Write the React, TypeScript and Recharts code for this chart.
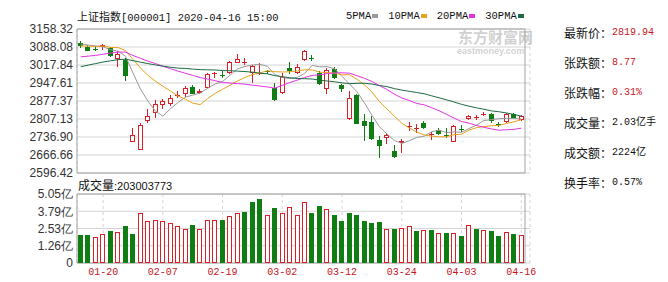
import React from 'react'
import { ComposedChart, Bar, Line, XAxis, YAxis, CartesianGrid, ReferenceArea } from 'recharts'

// trading days shown (01-15 .. 04-16)
const DATES = [
  '01-15', '01-16', '01-17', '01-20', '01-21', '01-22', '01-23', '02-03', '02-04', '02-05',
  '02-06', '02-07', '02-10', '02-11', '02-12', '02-13', '02-14', '02-17', '02-18', '02-19',
  '02-20', '02-21', '02-24', '02-25', '02-26', '02-27', '02-28', '03-02', '03-03', '03-04',
  '03-05', '03-06', '03-09', '03-10', '03-11', '03-12', '03-13', '03-16', '03-17', '03-18',
  '03-19', '03-20', '03-23', '03-24', '03-25', '03-26', '03-27', '03-30', '03-31', '04-01',
  '04-02', '04-03', '04-07', '04-08', '04-09', '04-10', '04-13', '04-14', '04-15', '04-16',
]
const TICK_DATES = ['01-20', '02-07', '02-19', '03-02', '03-12', '03-24', '04-03', '04-16']

const OPEN = [
  3104, 3090, 3079, 3088, 3084, 3041, 3037, 2717, 2685, 2800,
  2832, 2862, 2866, 2898, 2904, 2933, 2908, 2930, 2982, 2979,
  2988, 3026, 3029, 2986, 2985, 2995, 2927, 2907, 3007, 2988,
  3039, 3047, 2988, 2926, 3001, 2940, 2806, 2900, 2800, 2796,
  2724, 2733, 2684, 2712, 2777, 2768, 2792, 2743, 2766, 2745,
  2719, 2770, 2807, 2812, 2822, 2825, 2788, 2795, 2825, 2805,
]
const HIGH = [
  3110, 3097, 3093, 3100, 3087, 3073, 3047, 2771, 2791, 2845,
  2880, 2885, 2902, 2915, 2936, 2939, 2923, 2988, 2992, 2994,
  3035, 3061, 3046, 3018, 3026, 3000, 2949, 2988, 3028, 3020,
  3078, 3055, 2994, 3007, 3010, 2945, 2915, 2905, 2827, 2817,
  2740, 2753, 2705, 2731, 2794, 2786, 2799, 2758, 2773, 2772,
  2784, 2784, 2822, 2822, 2833, 2829, 2794, 2832, 2829, 2821,
]
const LOW = [
  3086, 3072, 3072, 3077, 3050, 3009, 2955, 2717, 2685, 2790,
  2812, 2847, 2859, 2889, 2894, 2904, 2904, 2927, 2969, 2969,
  2984, 3025, 3017, 2949, 2977, 2982, 2878, 2904, 2982, 2984,
  3035, 3035, 2940, 2905, 2965, 2911, 2803, 2787, 2722, 2725,
  2654, 2709, 2655, 2676, 2761, 2752, 2768, 2726, 2745, 2732,
  2717, 2755, 2805, 2803, 2819, 2790, 2777, 2793, 2810, 2801,
]
const CLOSE = [
  3090.04, 3074.08, 3075.5, 3095.79, 3052.14, 3060.75, 2976.53, 2746.61, 2783.29, 2818.09,
  2866.51, 2875.96, 2890.49, 2901.67, 2926.9, 2906.07, 2917.01, 2983.62, 2984.97, 2975.4,
  3030.15, 3039.67, 3031.23, 3013.05, 2987.93, 2991.33, 2880.3, 2970.93, 2992.9, 3011.67,
  3071.68, 3043, 2943.29, 2996.76, 2968.52, 2923.49, 2887.43, 2789.25, 2779.64, 2728.76,
  2702.13, 2745.62, 2660.17, 2722.44, 2781.59, 2771, 2772.2, 2747.21, 2750.3, 2740,
  2780.64, 2763.99, 2820.76, 2815.37, 2825.9, 2798, 2783.05, 2827.28, 2811.17, 2819.94,
]
const PREV_CLOSE = 3106.82

const MA5 = [
  3099.9, 3095.8, 3092.4, 3088.4, 3077.5, 3071.7, 3052.1, 2986.4, 2923.9, 2877.1,
  2838.2, 2818.1, 2846.9, 2870.6, 2892.3, 2900.2, 2908.4, 2927.0, 2943.7, 2953.4,
  2978.2, 3002.8, 3012.3, 3017.9, 3020.4, 3012.6, 2980.8, 2968.7, 2964.7, 2969.4,
  2985.5, 3016.3, 3010.8, 3011.6, 3003.0, 2973.3, 2943.9, 2913.1, 2869.7, 2821.7,
  2777.4, 2749.1, 2723.3, 2711.8, 2722.4, 2734.9, 2740.3, 2757.7, 2763.2, 2753.8,
  2757.0, 2755.3, 2770.0, 2783.1, 2801.3, 2804.5, 2808.3, 2809.6, 2808.8, 2807.6,
]
const MA10 = [
  3092.4, 3091.3, 3090.4, 3091.7, 3086.4, 3085.8, 3073.9, 3039.4, 3006.2, 2977.3,
  2954.9, 2935.1, 2916.6, 2897.2, 2884.7, 2869.2, 2863.3, 2887.0, 2907.1, 2922.9,
  2939.2, 2955.6, 2969.7, 2980.8, 2986.9, 2995.4, 2991.8, 2990.5, 2991.3, 2994.9,
  2999.1, 2998.6, 2989.8, 2988.1, 2986.2, 2979.4, 2980.1, 2962.0, 2940.6, 2912.3,
  2875.4, 2846.5, 2818.2, 2790.7, 2772.1, 2756.2, 2744.7, 2740.5, 2737.5, 2738.1,
  2746.0, 2747.8, 2763.9, 2773.2, 2777.6, 2780.8, 2781.8, 2789.8, 2795.9, 2804.5,
]
const MA20 = [
  3049.6, 3052.5, 3055.4, 3059.9, 3064.4, 3068.3, 3068.0, 3055.0, 3043.9, 3032.8,
  3023.7, 3013.2, 3003.5, 2994.4, 2985.5, 2977.5, 2968.6, 2963.2, 2956.6, 2950.1,
  2947.1, 2945.4, 2943.1, 2939.0, 2935.8, 2932.3, 2927.5, 2938.7, 2949.2, 2958.9,
  2969.2, 2977.1, 2979.7, 2984.5, 2986.6, 2987.4, 2985.9, 2976.2, 2966.0, 2953.6,
  2937.2, 2922.5, 2904.0, 2889.4, 2879.1, 2867.8, 2862.4, 2851.2, 2839.1, 2825.2,
  2810.7, 2797.1, 2791.0, 2781.9, 2774.8, 2768.5, 2763.3, 2765.1, 2766.7, 2771.3,
]
const MA30 = [
  3011.0, 3017.5, 3023.4, 3029.5, 3034.1, 3038.8, 3040.6, 3034.9, 3028.8, 3023.3,
  3018.1, 3013.4, 3009.1, 3005.7, 3004.5, 3001.9, 2999.8, 2999.0, 2998.3, 2996.2,
  2995.5, 2994.0, 2992.2, 2989.9, 2986.0, 2983.5, 2976.3, 2972.3, 2968.2, 2965.0,
  2964.4, 2963.1, 2958.7, 2955.4, 2952.6, 2948.0, 2945.1, 2946.5, 2946.4, 2943.4,
  2937.9, 2933.5, 2925.9, 2919.9, 2915.1, 2910.3, 2905.5, 2897.6, 2889.8, 2881.8,
  2873.5, 2864.3, 2857.3, 2850.7, 2845.3, 2838.8, 2835.5, 2830.8, 2824.7, 2818.3,
]

// 成交量, 亿
const VOLUME = [
  2.07, 2.07, 1.9, 2.12, 2.37, 2.27, 2.73, 2.15, 3.66, 3.1,
  3.17, 3.1, 2.93, 2.71, 2.51, 2.81, 2.51, 3.17, 3.17, 3.17,
  3.46, 3.66, 3.76, 4.49, 4.71, 3.51, 4.05, 3.68, 4.1, 3.51,
  4.46, 3.68, 4.2, 3.95, 3.54, 3.1, 3.68, 3.54, 3.1, 2.93,
  3.0, 2.51, 2.51, 2.56, 2.71, 2.37, 2.44, 2.44, 2.2, 2.2,
  2.2, 2.0, 2.75, 2.5, 2.42, 2.36, 1.95, 2.25, 2.1, 2.03,
]

const PRICE_TICKS = [2596.42, 2666.66, 2736.9, 2807.13, 2877.37, 2947.61, 3017.84, 3088.08, 3158.32]
const PRICE_TICK_LABELS = ['2596.42', '2666.66', '2736.90', '2807.13', '2877.37', '2947.61', '3017.84', '3088.08', '3158.32']
const VOL_TICKS = [0, 1.2625, 2.525, 3.7875, 5.05]
const VOL_TICK_LABELS = ['0', '1.26亿', '2.53亿', '3.79亿', '5.05亿']

const MA_NAMES = ['5PMA', '10PMA', '20PMA', '30PMA']
const MA_KEYS = ['ma5', 'ma10', 'ma20', 'ma30']
const MA_COLORS = ['#9a9a9a', '#e8a21c', '#e233e2', '#1d6b44']

const INFO_LABELS = ['最新价：', '张跌额：', '张跌幅：', '成交量：', '成交额：', '换手率：']
const INFO_VALUES = ['2819.94', '8.77', '0.31%', '2.03亿手', '2224亿', '0.57%']

const RED = '#dc1f26'
const GREEN = '#0f7d12'
const GRID = '#d4d4d4'
const FRAME = '#a3a3a3'
const SANS = '"Liberation Sans", Arial, sans-serif'
const MONO = '"Liberation Mono", "Noto Sans CJK SC", monospace'
const CJK = '"Noto Sans CJK SC", sans-serif'

const kData = DATES.map((date, i) => ({
  date,
  open: OPEN[i],
  high: HIGH[i],
  low: LOW[i],
  close: CLOSE[i],
  range: [LOW[i], HIGH[i]],
  ma5: MA5[i],
  ma10: MA10[i],
  ma20: MA20[i],
  ma30: MA30[i],
}))

const volData = DATES.map((date, i) => ({
  date,
  vol: VOLUME[i],
  up: CLOSE[i] >= (i === 0 ? PREV_CLOSE : CLOSE[i - 1]),
}))

const labelOf = (ticks: number[], labels: string[]) => (v: number) => {
  const i = ticks.findIndex((t) => Math.abs(t - v) < 1e-6)
  return i >= 0 ? labels[i] : String(v)
}

function Candle(props: any) {
  const { x, y, width, height, payload } = props
  if (!payload || y == null) return null
  const { open, close, high, low } = payload
  const top = Math.min(y, y + height)
  const h = Math.abs(height)
  const span = high - low || 1
  const toY = (v: number) => top + ((high - v) / span) * h
  const up = close >= open
  const color = up ? RED : GREEN
  const left = Math.round(x + width / 2 - 2.5)
  const mid = left + 2.5
  const yHigh = Math.round(toY(high))
  const yLow = Math.round(toY(low))
  const bTop = Math.round(toY(Math.max(open, close)))
  const bBot = Math.round(toY(Math.min(open, close)))
  const flat = bBot - bTop <= 1
  return (
    <g>
      <line x1={mid} x2={mid} y1={yHigh} y2={bTop} stroke={color} />
      <line x1={mid} x2={mid} y1={bBot} y2={yLow} stroke={color} />
      {flat ? (
        <line x1={left} x2={left + 5} y1={bTop + 0.5} y2={bTop + 0.5} stroke={color} />
      ) : (
        <rect
          x={left + 0.5}
          y={bTop + 0.5}
          width={4}
          height={bBot - bTop - 1}
          fill={up ? '#fff' : color}
          stroke={color}
        />
      )}
    </g>
  )
}

function VolBar(props: any) {
  const { x, y, width, height, payload } = props
  if (!payload || y == null) return null
  const left = Math.round(x + width / 2 - 2.5)
  const top = Math.round(Math.min(y, y + height))
  const bottom = Math.round(Math.max(y, y + height))
  if (payload.up) {
    return (
      <rect x={left + 0.5} y={top + 0.5} width={4} height={bottom - top - 1} fill="#fff" stroke={RED} />
    )
  }
  return <rect x={left} y={top} width={5} height={bottom - top} fill={GREEN} />
}

const axisTick = { fill: '#333', fontSize: 12, fontFamily: SANS }

export default function App() {
  return (
    <div
      style={{
        position: 'absolute',
        left: 0,
        top: 0,
        width: 668,
        height: 282,
        background: '#fff',
        overflow: 'hidden',
      }}
    >
      {/* title */}
      <div style={{ position: 'absolute', left: 77, top: 8, lineHeight: '16px', color: '#111', whiteSpace: 'nowrap' }}>
        <span style={{ fontFamily: CJK, fontSize: 11 }}>上证指数</span>
        <span style={{ fontFamily: MONO, fontSize: 10.5 }}>[000001] 2020-04-16 15:00</span>
      </div>

      {/* legend */}
      <div style={{ position: 'absolute', left: 346, top: 9, display: 'flex', lineHeight: '14px', whiteSpace: 'nowrap' }}>
        {MA_NAMES.map((name, i) => (
          <span key={name} style={{ display: 'flex', alignItems: 'center', marginRight: 10 }}>
            <span style={{ fontFamily: MONO, fontSize: 10.5, color: '#111' }}>{name}</span>
            <span style={{ display: 'inline-block', width: 6, height: 4, background: MA_COLORS[i], marginLeft: 1 }} />
          </span>
        ))}
      </div>

      {/* watermark */}
      <div
        style={{
          position: 'absolute',
          left: 458,
          top: 28,
          color: 'rgba(150,150,150,0.45)',
          fontFamily: CJK,
          fontSize: 15,
          fontWeight: 700,
          lineHeight: '18px',
          zIndex: 2,
          pointerEvents: 'none',
        }}
      >
        东方财富网
      </div>
      <div
        style={{
          position: 'absolute',
          left: 457,
          top: 46,
          color: 'rgba(150,150,150,0.45)',
          fontFamily: SANS,
          fontSize: 9,
          fontWeight: 700,
          lineHeight: '10px',
          zIndex: 2,
          pointerEvents: 'none',
        }}
      >
        eastmoney.com
      </div>

      {/* volume label */}
      <div style={{ position: 'absolute', left: 78, top: 177, lineHeight: '16px', color: '#111', whiteSpace: 'nowrap' }}>
        <span style={{ fontFamily: CJK, fontSize: 12 }}>成交量</span>
        <span style={{ fontFamily: SANS, fontSize: 11 }}>:203003773</span>
      </div>

      {/* volume chart */}
      <div style={{ position: 'absolute', left: 0, top: 180 }}>
        <ComposedChart width={540} height={102} data={volData} margin={{ top: 14, right: 10, bottom: 0, left: 0 }}>
          <CartesianGrid vertical={false} stroke={GRID} />
          <CartesianGrid horizontal={false} stroke={GRID} strokeDasharray="3 3" />
          <XAxis
            dataKey="date"
            ticks={TICK_DATES}
            interval={0}
            tick={{ fill: '#c8161d', fontSize: 10, fontFamily: MONO }}
            tickLine={false}
            axisLine={false}
            tickSize={0}
            tickMargin={5}
            height={19}
            padding={{ left: 0, right: 5 }}
          />
          <YAxis
            domain={[0, 5.05]}
            ticks={VOL_TICKS}
            interval={0}
            tickFormatter={labelOf(VOL_TICKS, VOL_TICK_LABELS)}
            tick={axisTick}
            tickLine={false}
            axisLine={false}
            tickSize={0}
            tickMargin={4}
            width={77}
          />
          <ReferenceArea y1={0} y2={5.05} fill="none" stroke={FRAME} strokeOpacity={1} />
          <Bar dataKey="vol" barSize={5} shape={<VolBar />} isAnimationActive={false} />
        </ComposedChart>
      </div>

      {/* price chart (drawn last so the lowest tick label stays visible) */}
      <div style={{ position: 'absolute', left: 0, top: 0 }}>
        <ComposedChart width={540} height={182} data={kData} margin={{ top: 29, right: 10, bottom: 8, left: 0 }}>
          <CartesianGrid vertical={false} stroke={GRID} />
          <CartesianGrid horizontal={false} stroke={GRID} strokeDasharray="3 3" />
          <XAxis
            dataKey="date"
            ticks={TICK_DATES}
            interval={0}
            tick={false}
            tickLine={false}
            axisLine={false}
            height={1}
            padding={{ left: 0, right: 5 }}
          />
          <YAxis
            domain={[2596.42, 3158.32]}
            ticks={PRICE_TICKS}
            interval={0}
            tickFormatter={labelOf(PRICE_TICKS, PRICE_TICK_LABELS)}
            tick={axisTick}
            tickLine={false}
            axisLine={false}
            tickSize={0}
            tickMargin={4}
            width={77}
          />
          <ReferenceArea y1={2596.42} y2={3158.32} fill="none" stroke={FRAME} strokeOpacity={1} />
          <Bar dataKey="range" barSize={5} shape={<Candle />} isAnimationActive={false} legendType="none" />
          {MA_KEYS.map((k, i) => (
            <Line
              key={k}
              dataKey={k}
              name={MA_NAMES[i]}
              type="linear"
              stroke={MA_COLORS[i]}
              strokeWidth={1}
              dot={false}
              activeDot={false}
              isAnimationActive={false}
            />
          ))}
        </ComposedChart>
      </div>

      {/* info panel */}
      {INFO_LABELS.map((label, i) => (
        <div
          key={label}
          style={{
            position: 'absolute',
            left: 564,
            top: 25 + i * 30,
            lineHeight: '16px',
            whiteSpace: 'nowrap',
            display: 'flex',
            alignItems: 'center',
          }}
        >
          <span style={{ fontFamily: CJK, fontSize: 12, color: '#111', width: 48 }}>{label}</span>
          <span style={{ fontFamily: MONO, fontSize: 10, color: i < 3 ? '#c8161d' : '#111' }}>{INFO_VALUES[i]}</span>
        </div>
      ))}
    </div>
  )
}
